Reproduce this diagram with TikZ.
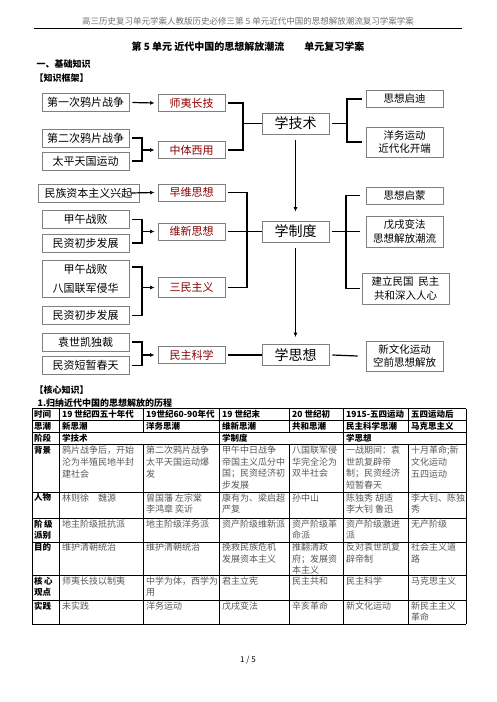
\documentclass[tikz,border=0pt]{standalone}
\usepackage{fontspec}
\setmainfont{Noto Sans CJK SC}
\usepackage{xcolor,tikz}
\usetikzlibrary{arrows.meta,positioning,calc}

\begin{document}
\begin{tikzpicture}[x=1pt,y=-1pt,
  box/.style={draw=black!50,line width=0.8pt,fill=white,inner sep=0pt,align=center,font=\fontsize{11}{13}\selectfont},
  cause/.style={box,minimum width=87pt,minimum height=18pt},
  idea/.style={box,minimum width=67pt,minimum height=17pt,text=red!55!black},
  stage/.style={box,minimum width=67pt,minimum height=21pt,font=\fontsize{14}{16}\selectfont},
  gain/.style={box,minimum width=77pt,minimum height=17pt,font=\fontsize{10.5}{13.5}\selectfont},
  conn/.style={line width=1.2pt},
  arr/.style={conn,-{Latex[length=4.5pt,width=4pt]}},
  cell/.style={anchor=north west,inner sep=0pt,align=left,text=black!65,font=\fontsize{9}{11.6}\selectfont},
  hcell/.style={cell,text=black,font=\bfseries\fontsize{8.5}{11.6}\selectfont},
  grid/.style={line width=0.9pt}]
\useasboundingbox (0,0) rectangle (496,702);
\fill[white] (0,0) rectangle (496,702);

% page head and titles
\node[text=black!55,font=\fontsize{8.5}{10}\selectfont] (pagehead) at (248,21) {高三历史复习单元学案人教版历史必修三第 5 单元近代中国的思想解放潮流复习学案学案};
\draw[line width=0.7pt] (34,28.5) -- (462,28.5);
\node[font=\bfseries\fontsize{10}{12}\selectfont] (title) at (248,47) {第 5 单元\ 近代中国的思想解放潮流\quad\quad 单元复习学案};
\node[anchor=west,font=\bfseries\fontsize{9}{11}\selectfont] (basic) at (33,64) {一、基础知识};
\node[anchor=west,font=\bfseries\fontsize{9}{11}\selectfont] (frame) at (31,78) {【知识框架】};

% causes
\node[cause] (opium1) at (85.5,102.5) {第一次鸦片战争};
\node[cause] (opium2) at (85.5,138) {第二次鸦片战争};
\node[cause] (taiping) at (85.5,161) {太平天国运动};
\node[cause,minimum width=101pt] (capital) at (88.5,193) {民族资本主义兴起};
\node[cause] (defeatA) at (85.5,219.5) {甲午战败};
\node[cause] (growA) at (85.5,243) {民资初步发展};
\node[cause,minimum height=37pt,font=\fontsize{11}{19}\selectfont] (invade) at (85.5,278.5) {甲午战败\\八国联军侵华};
\node[cause] (growB) at (85.5,315.5) {民资初步发展};
\node[cause] (yuan) at (85.5,342) {袁世凯独裁};
\node[cause] (spring) at (85.5,365.5) {民资短暂春天};

% ideas
\node[idea] (shiyi) at (191.5,103) {师夷长技};
\node[idea] (zhongti) at (191.5,150) {中体西用};
\node[idea] (zaowei) at (191.5,192.5) {早维思想};
\node[idea] (weixin) at (191.5,231.5) {维新思想};
\node[idea,minimum height=20pt] (sanmin) at (191.5,287.5) {三民主义};
\node[idea] (minzhu) at (191.5,355) {民主科学};

% stages
\node[stage] (jishu) at (295.5,123.5) {学技术};
\node[stage] (zhidu) at (295.5,231.5) {学制度};
\node[stage] (sixiang) at (295.5,355) {学思想};

% results
\node[gain] (qidi) at (404.5,99) {思想启迪};
\node[gain,minimum height=30pt] (yangwu) at (404.5,142) {洋务运动\\近代化开端};
\node[gain] (qimeng) at (404.5,195.5) {思想启蒙};
\node[gain,minimum height=31pt] (wuxu) at (404.5,231.5) {戊戌变法\\思想解放潮流};
\node[gain,minimum width=87pt,minimum height=31pt] (minguo) at (405.5,288.5) {建立民国\ \ 民主\\共和深入人心};
\node[gain,minimum height=30pt] (xinwenhua) at (404.5,356) {新文化运动\\空前思想解放};

% left joins
\coordinate (jA) at (142,150);
\coordinate (jB) at (142,231.5);
\coordinate (jC) at (142,287.5);
\coordinate (jD) at (142,355);
\draw[arr] ([xshift=3]opium1.east) -- ([xshift=-3]shiyi.west);
\draw[conn] ([xshift=3]opium2.east) -| (jA) |- ([xshift=3]taiping.east);
\draw[arr] (jA) -- ([xshift=-3]zhongti.west);
\draw[arr] ([xshift=-9]capital.east) -- ([xshift=-3]zaowei.west);
\draw[conn] ([xshift=3]defeatA.east) -| (jB) |- ([xshift=3]growA.east);
\draw[arr] (jB) -- ([xshift=-3]weixin.west);
\draw[conn] ([xshift=3,yshift=11.5]invade.east) -| (jC) |- ([xshift=3]growB.east);
\draw[arr] (jC) -- ([xshift=-3]sanmin.west);
\draw[conn] ([xshift=3]yuan.east) -| (jD) |- ([xshift=3]spring.east);
\draw[arr] (jD) -- ([xshift=-3]minzhu.west);

% ideas to stages
\coordinate (kA) at (243,123.5);
\coordinate (kB) at (247,231.5);
\draw[conn] ([xshift=3]shiyi.east) -| (kA) |- ([xshift=3]zhongti.east);
\draw[conn] (kA) -- (jishu.west);
\draw[conn] ([xshift=3]zaowei.east) -| (kB) |- ([xshift=3]sanmin.east);
\draw[conn] ([xshift=3]weixin.east) -- (zhidu.west);
\draw[conn] ([xshift=3]minzhu.east) -- (sixiang.west);

% stages to results
\coordinate (mA) at (347,123.5);
\coordinate (mB) at (346,231.5);
\draw[conn] ([xshift=-4]qidi.west) -| (mA) |- ([xshift=-4]yangwu.west);
\draw[conn] ([xshift=3]jishu.east) -- (mA);
\draw[conn] ([xshift=-6]qimeng.west) -| (mB) |- ([xshift=-2]minguo.west);
\draw[conn] ([xshift=3]zhidu.east) -- ([xshift=-6]wuxu.west);
\draw[conn] ([xshift=3]sixiang.east) -- ([xshift=-8]xinwenhua.west);
\draw[arr] ([yshift=-6]jishu.south) -- ([yshift=9]zhidu.north);
\draw[arr] ([yshift=-6]zhidu.south) -- ([yshift=7]sixiang.north);

% core knowledge table
\node[anchor=west,font=\bfseries\fontsize{9}{11}\selectfont] (core) at (31,390) {【核心知识】};
\node[anchor=west,font=\bfseries\fontsize{9}{11}\selectfont] (task) at (34,403) {1.归纳近代中国的思想解放的历程};
\foreach \y in {408.5,420.5,432.5,444.5,492,518,542,575,600,624}
  \draw[grid] (32,\y) -- (466,\y);
\foreach \x in {32,59,219,343,466}
  \draw[grid] (\x,408.5) -- (\x,624);
\foreach \x in {143,289,408}{
  \draw[grid] (\x,408.5) -- (\x,432.5);
  \draw[grid] (\x,444.5) -- (\x,624);}

\node[hcell] (t0) at (34,410) {时间};
\node[hcell] (t1) at (62,410) {19 世纪四五十年代};
\node[hcell] (t2) at (146,410) {19世纪60-90年代};
\node[hcell] (t3) at (222,410) {19 世纪末};
\node[hcell] (t4) at (292,410) {20 世纪初};
\node[hcell] (t5) at (346,410) {1915-五四运动};
\node[hcell] (t6) at (411,410) {五四运动后};

\node[hcell] (s0) at (34,422) {思潮};
\node[hcell] (s1) at (62,422) {新思潮};
\node[hcell] (s2) at (146,422) {洋务思潮};
\node[hcell] (s3) at (222,422) {维新思潮};
\node[hcell] (s4) at (292,422) {共和思潮};
\node[hcell] (s5) at (346,422) {民主科学思潮};
\node[hcell] (s6) at (411,422) {马克思主义};

\node[hcell] (p0) at (34,434) {阶段};
\node[hcell] (p1) at (62,434) {学技术};
\node[hcell] (p2) at (222,434) {学制度};
\node[hcell] (p3) at (346,434) {学思想};

\node[hcell] (b0) at (34,446) {背景};
\node[cell] (b1) at (62,446) {鸦片战争后，开始\\沦为半殖民地半封\\建社会};
\node[cell] (b2) at (146,446) {第二次鸦片战争\\太平天国运动爆\\发};
\node[cell] (b3) at (222,446) {甲午中日战争\\帝国主义瓜分中\\国；民资经济初\\步发展};
\node[cell] (b4) at (292,446) {八国联军侵\\华完全沦为\\双半社会};
\node[cell] (b5) at (346,446) {一战期间：袁\\世凯复辟帝\\制；民资经济\\短暂春天};
\node[cell] (b6) at (411,446) {十月革命;新\\文化运动\\五四运动};

\node[hcell] (r0) at (34,493.5) {人物};
\node[cell] (r1) at (62,493.5) {林则徐\quad 魏源};
\node[cell] (r2) at (146,493.5) {曾国藩 左宗棠\\李鸿章 奕䜣};
\node[cell] (r3) at (222,493.5) {康有为、梁启超\\严复};
\node[cell] (r4) at (292,493.5) {孙中山};
\node[cell] (r5) at (346,493.5) {陈独秀 胡适\\李大钊 鲁迅};
\node[cell] (r6) at (411,493.5) {李大钊、陈独\\秀};

\node[hcell] (c0) at (34,519.5) {阶\,级\\派别};
\node[cell] (c1) at (62,519.5) {地主阶级抵抗派};
\node[cell] (c2) at (146,519.5) {地主阶级洋务派};
\node[cell] (c3) at (222,519.5) {资产阶级维新派};
\node[cell] (c4) at (292,519.5) {资产阶级革\\命派};
\node[cell] (c5) at (346,519.5) {资产阶级激进\\派};
\node[cell] (c6) at (411,519.5) {无产阶级};

\node[hcell] (g0) at (34,543) {目的};
\node[cell] (g1) at (62,543) {维护清朝统治};
\node[cell] (g2) at (146,543) {维护清朝统治};
\node[cell] (g3) at (222,543) {挽救民族危机\\发展资本主义};
\node[cell] (g4) at (292,543) {推翻清政\\府；发展资\\本主义};
\node[cell] (g5) at (346,543) {反对袁世凯复\\辟帝制};
\node[cell] (g6) at (411,543) {社会主义道\\路};

\node[hcell] (v0) at (34,576.5) {核\,心\\观点};
\node[cell] (v1) at (62,576.5) {师夷长技以制夷};
\node[cell] (v2) at (146,576.5) {中学为体，西学为\\用};
\node[cell] (v3) at (222,576.5) {君主立宪};
\node[cell] (v4) at (292,576.5) {民主共和};
\node[cell] (v5) at (346,576.5) {民主科学};
\node[cell] (v6) at (411,576.5) {马克思主义};

\node[hcell] (q0) at (34,601.5) {实践};
\node[cell] (q1) at (62,601.5) {未实践};
\node[cell] (q2) at (146,601.5) {洋务运动};
\node[cell] (q3) at (222,601.5) {戊戌变法};
\node[cell] (q4) at (292,601.5) {辛亥革命};
\node[cell] (q5) at (346,601.5) {新文化运动};
\node[cell] (q6) at (411,601.5) {新民主主义\\革命};

\node[font=\fontsize{8}{10}\selectfont] (pageno) at (248,660) {1 / 5};
\end{tikzpicture}
\end{document}
